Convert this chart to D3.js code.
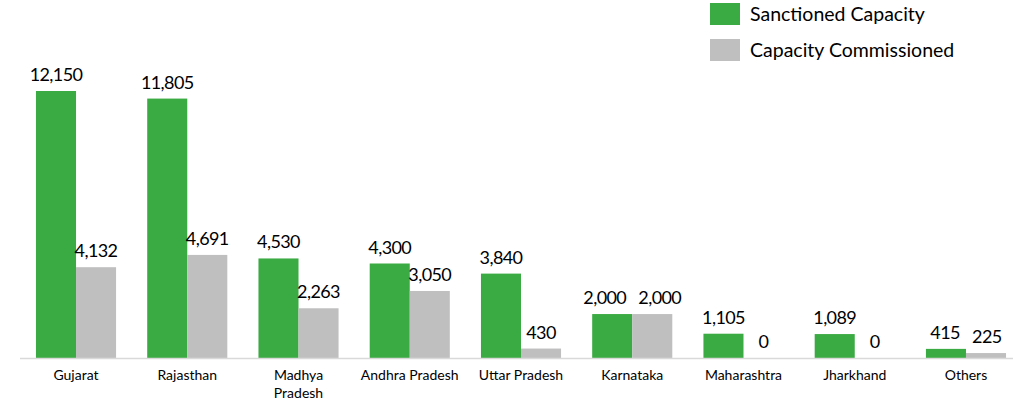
<!DOCTYPE html>
<html>
<head>
<meta charset="utf-8">
<script src="https://cdn.jsdelivr.net/npm/d3@7"></script>
<style>
  html, body { margin: 0; padding: 0; background: #fff; }
  svg { display: block; }
  text { font-family: Lato, "Open Sans", sans-serif; fill: #000; }
</style>
</head>
<body>
<script>
const categories = ["Gujarat", "Rajasthan", "Madhya Pradesh", "Andhra Pradesh", "Uttar Pradesh", "Karnataka", "Maharashtra", "Jharkhand", "Others"];
const tickLabels = [["Gujarat"], ["Rajasthan"], ["Madhya", "Pradesh"], ["Andhra Pradesh"], ["Uttar Pradesh"], ["Karnataka"], ["Maharashtra"], ["Jharkhand"], ["Others"]];
const sanctioned = [12150, 11805, 4530, 4300, 3840, 2000, 1105, 1089, 415];
const commissioned = [4132, 4691, 2263, 3050, 430, 2000, 0, 0, 225];
const seriesNames = ["Sanctioned Capacity", "Capacity Commissioned"];
const colors = ["#3aaa42", "#bfbfbf"];

const W = 1014, H = 405;
const baseY = 358, topY = 91;

const svg = d3.select("body").append("svg").attr("width", W).attr("height", H);

const x0 = d3.scaleBand().domain(categories).range([20.4, 1021.6]).paddingInner(0.28).paddingOuter(0.14);
const x1 = d3.scaleBand().domain([0, 1]).range([0, x0.bandwidth()]);
const y = d3.scaleLinear().domain([0, d3.max(sanctioned)]).range([baseY, topY]);

const fmt = d3.format(",");

const data = categories.map((c, i) => ({ c, vals: [sanctioned[i], commissioned[i]] }));

const groups = svg.selectAll("g.grp").data(data).join("g")
  .attr("class", "grp")
  .attr("transform", d => `translate(${x0(d.c)},0)`);

groups.selectAll("rect").data(d => d.vals.map((v, k) => ({ v, k }))).join("rect")
  .attr("x", d => x1(d.k))
  .attr("width", x1.bandwidth())
  .attr("y", d => y(d.v))
  .attr("height", d => baseY - y(d.v))
  .attr("fill", d => colors[d.k]);

groups.each(function () {
  const g = d3.select(this);
  const labels = g.selectAll("text.val").data(d => d.vals.map((v, k) => ({ v, k }))).join("text")
    .attr("class", "val")
    .attr("x", d => x1(d.k) + x1.bandwidth() / 2)
    .attr("y", d => y(d.v) - 10)
    .attr("text-anchor", "middle")
    .attr("font-size", 18)
    .attr("letter-spacing", -0.6)
    .text(d => fmt(d.v));
  // avoid overlap of labels at similar heights
  const nodes = labels.nodes();
  const b0 = nodes[0].getBBox(), b1 = nodes[1].getBBox();
  const vOverlap = Math.abs(b0.y - b1.y) < b0.height;
  const gap = 12;
  const need = (b0.x + b0.width + gap) - b1.x;
  if (vOverlap && need > 0) {
    d3.select(nodes[0]).attr("x", +nodes[0].getAttribute("x") - need / 2);
    d3.select(nodes[1]).attr("x", +nodes[1].getAttribute("x") + need / 2);
  }
});

// axis line
svg.append("line")
  .attr("x1", 20).attr("x2", 1013)
  .attr("y1", baseY + 0.5).attr("y2", baseY + 0.5)
  .attr("stroke", "#d9d9d9").attr("stroke-width", 1.5);

// category labels
const xAxis = svg.append("g");
categories.forEach((c, i) => {
  const t = xAxis.append("text")
    .attr("x", x0(c) + x0.bandwidth() / 2)
    .attr("y", 380)
    .attr("text-anchor", "middle")
    .attr("font-size", 14);
  tickLabels[i].forEach((line, j) => {
    t.append("tspan").attr("x", x0(c) + x0.bandwidth() / 2).attr("dy", j === 0 ? 0 : 18).text(line);
  });
});

// legend
const legend = svg.append("g").attr("transform", "translate(710,3)");
seriesNames.forEach((name, i) => {
  const g = legend.append("g").attr("transform", `translate(0,${i * 36})`);
  g.append("rect").attr("width", 30).attr("height", 22).attr("fill", colors[i]);
  g.append("text").attr("x", 40).attr("y", 18).attr("font-size", 19.5).text(name);
});
</script>
</body>
</html>
